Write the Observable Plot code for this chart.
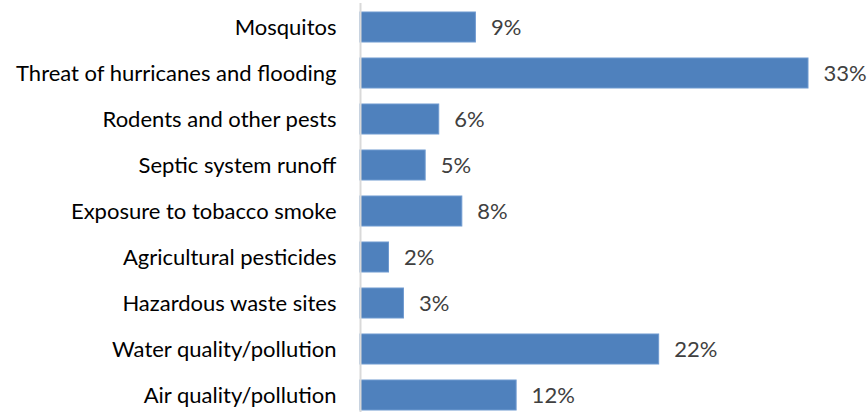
<!DOCTYPE html>
<html>
<head>
<meta charset="utf-8">
<script src="https://cdn.jsdelivr.net/npm/d3@7"></script>
<script src="https://cdn.jsdelivr.net/npm/@observablehq/plot@0.6"></script>
<style>
  html, body { margin: 0; padding: 0; background: #fff; overflow: hidden; }
  #chart { width: 868px; height: 412px; overflow: hidden; }
</style>
</head>
<body>
<div id="chart"></div>
<script>
const categories = [
  "Mosquitos",
  "Threat of hurricanes and flooding",
  "Rodents and other pests",
  "Septic system runoff",
  "Exposure to tobacco smoke",
  "Agricultural pesticides",
  "Hazardous waste sites",
  "Water quality/pollution",
  "Air quality/pollution"
];
const values = [8.5, 33.0, 5.8, 4.8, 7.5, 2.1, 3.2, 22.0, 11.5];
const labels = ["9%", "33%", "6%", "5%", "8%", "2%", "3%", "22%", "12%"];

const data = categories.map((c, i) => ({category: c, value: values[i], label: labels[i]}));

const chart = Plot.plot({
  width: 868,
  height: 418,
  marginLeft: 360,
  marginRight: 60,
  marginTop: 3,
  marginBottom: 0,
  style: {fontFamily: "Lato, sans-serif", background: "#fff"},
  x: {domain: [0, 33], axis: null},
  y: {domain: categories, paddingInner: 0.35, paddingOuter: 0.175, label: null, tickSize: 0, tickPadding: 24},
  marks: [
    Plot.barX(data, {x: "value", y: "category", fill: "#4F81BD", stroke: "#6f9ad0", strokeWidth: 1}),
    Plot.ruleX([0], {stroke: "#d9d9d9", strokeWidth: 2}),
    Plot.axisY({tickSize: 0, tickPadding: 24, fontSize: 22, fill: "#000", label: null}),
    Plot.text(data, {x: "value", y: "category", text: "label", dx: 15, textAnchor: "start", fill: "#404040", fontSize: 22})
  ]
});
document.getElementById("chart").appendChild(chart);
</script>
</body>
</html>
